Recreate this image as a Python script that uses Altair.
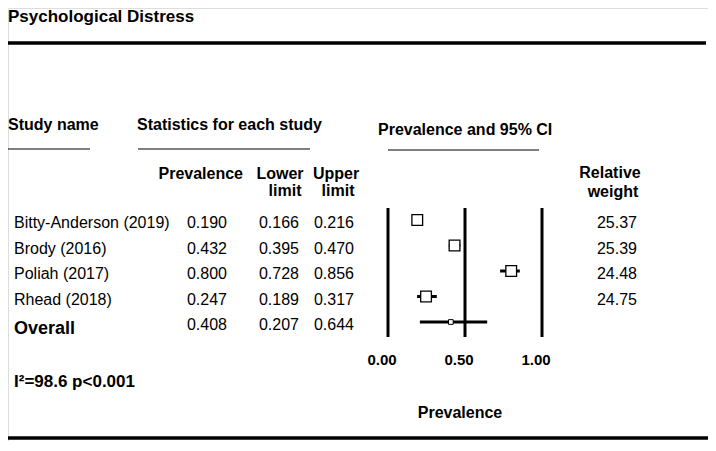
import altair as alt
import pandas as pd

# ---- data ----
studies = ["Bitty-Anderson (2019)", "Brody (2016)", "Poliah (2017)", "Rhead (2018)"]
prevalence = [0.190, 0.432, 0.800, 0.247]
lower_limit = [0.166, 0.395, 0.728, 0.189]
upper_limit = [0.216, 0.470, 0.856, 0.317]
rel_weight = [25.37, 25.39, 24.48, 24.75]
overall_label = "Overall"
overall_prev = 0.408
overall_lower = 0.207
overall_upper = 0.644
heterogeneity = "I\u00b2=98.6 p<0.001"
axis_ticks = [0.0, 0.5, 1.0]

FONT = "Liberation Sans"

df = pd.DataFrame({
    "study": studies,
    "prev": prevalence,
    "lower": lower_limit,
    "upper": upper_limit,
    "weight": rel_weight,
    "row": list(range(len(studies))),
})
ov = pd.DataFrame({
    "study": [overall_label],
    "prev": [overall_prev],
    "lower": [overall_lower],
    "upper": [overall_upper],
    "row": [len(studies)],
})
ticks = pd.DataFrame({"v": axis_ticks})

xs = alt.Scale(domain=[0, 1], range=[380, 534])
ys = alt.Scale(domain=[0, 4], range=[212, 314])
X = lambda f: alt.X(f, scale=xs, axis=None)
Y = alt.Y("row:Q", scale=ys, axis=None)

def label(text, x, y, size=16, bold=True, align="left", baseline="middle"):
    return alt.Chart(pd.DataFrame({"t": [text]})).mark_text(
        font=FONT, fontSize=size, fontWeight="bold" if bold else "normal",
        align=align, baseline=baseline, color="black"
    ).encode(text="t:N", x=alt.value(x), y=alt.value(y))

def hline(x1, x2, y, w):
    return alt.Chart(pd.DataFrame({"a": [0]})).mark_rule(
        color="black", strokeWidth=w
    ).encode(x=alt.value(x1), x2=alt.value(x2), y=alt.value(y))

layers = []
layers.append(label("Psychological Distress", 0, 1, size=17, baseline="top"))
layers.append(hline(0, 698, 35, 3.5))
layers.append(label("Study name", 0, 117))
layers.append(hline(0, 82, 141, 1))
layers.append(label("Statistics for each study", 129, 117))
layers.append(hline(130, 302, 141, 1))
layers.append(label("Prevalence and 95% CI", 370, 122))
layers.append(hline(380, 531, 142, 1))
layers.append(label("Prevalence", 235, 166, align="right"))
layers.append(label("Lower", 272, 166, align="center"))
layers.append(label("limit", 277, 183, align="center"))
layers.append(label("Upper", 328, 166, align="center"))
layers.append(label("limit", 330, 183, align="center"))
layers.append(label("Relative", 602, 165, align="center"))
layers.append(label("weight", 605, 184, align="center"))

base = alt.Chart(df)
txt = dict(font=FONT, fontSize=16, baseline="middle", color="black", dy=3)
layers.append(base.mark_text(align="left", **txt).encode(x=alt.value(6), y=Y, text="study:N"))
layers.append(base.mark_text(align="right", **txt).encode(x=alt.value(219), y=Y, text=alt.Text("prev:Q", format=".3f")))
layers.append(base.mark_text(align="right", **txt).encode(x=alt.value(291), y=Y, text=alt.Text("lower:Q", format=".3f")))
layers.append(base.mark_text(align="right", **txt).encode(x=alt.value(346), y=Y, text=alt.Text("upper:Q", format=".3f")))
layers.append(base.mark_text(align="right", **txt).encode(x=alt.value(629), y=Y, text=alt.Text("weight:Q", format=".2f")))

ovb = alt.Chart(ov)
layers.append(ovb.mark_text(align="left", font=FONT, fontSize=18, fontWeight="bold", baseline="middle", color="black", dy=7).encode(x=alt.value(6), y=Y, text="study:N"))
layers.append(ovb.mark_text(align="right", **txt).encode(x=alt.value(219), y=Y, text=alt.Text("prev:Q", format=".3f")))
layers.append(ovb.mark_text(align="right", **txt).encode(x=alt.value(291), y=Y, text=alt.Text("lower:Q", format=".3f")))
layers.append(ovb.mark_text(align="right", **txt).encode(x=alt.value(346), y=Y, text=alt.Text("upper:Q", format=".3f")))

# vertical reference lines
layers.append(alt.Chart(ticks).mark_rule(color="black", strokeWidth=3).encode(
    x=X("v:Q"), y=alt.value(200), y2=alt.value(329)))
# CI lines
layers.append(base.mark_rule(color="black", strokeWidth=3).encode(x=X("lower:Q"), x2="upper:Q", y=Y))
layers.append(ovb.mark_rule(color="black", strokeWidth=3).encode(x=X("lower:Q"), x2="upper:Q", y=Y))
# squares
layers.append(base.mark_square(size=115, filled=True, fill="white", stroke="black", strokeWidth=1.3, opacity=1).encode(x=X("prev:Q"), y=Y))
layers.append(ovb.mark_square(size=22, filled=True, fill="white", stroke="black", strokeWidth=1, opacity=1).encode(x=X("prev:Q"), y=Y))

# axis tick labels
layers.append(alt.Chart(ticks).mark_text(font=FONT, fontSize=15, fontWeight="bold", baseline="middle", color="black", dx=-6).encode(
    x=X("v:Q"), y=alt.value(352), text=alt.Text("v:Q", format=".2f")))
layers.append(label("Prevalence", 452, 405, align="center"))
layers.append(label(heterogeneity, 6, 374, size=17))
layers.append(hline(0, 700, 430, 3.5))

chart = alt.layer(*layers).properties(
    width=700, height=433, padding=0, autosize=alt.AutoSizeParams(type="none")
).configure_view(strokeWidth=0, stroke="transparent").configure(background="white")

chart.save("out.html", embed_options={"renderer": "svg", "actions": False})
